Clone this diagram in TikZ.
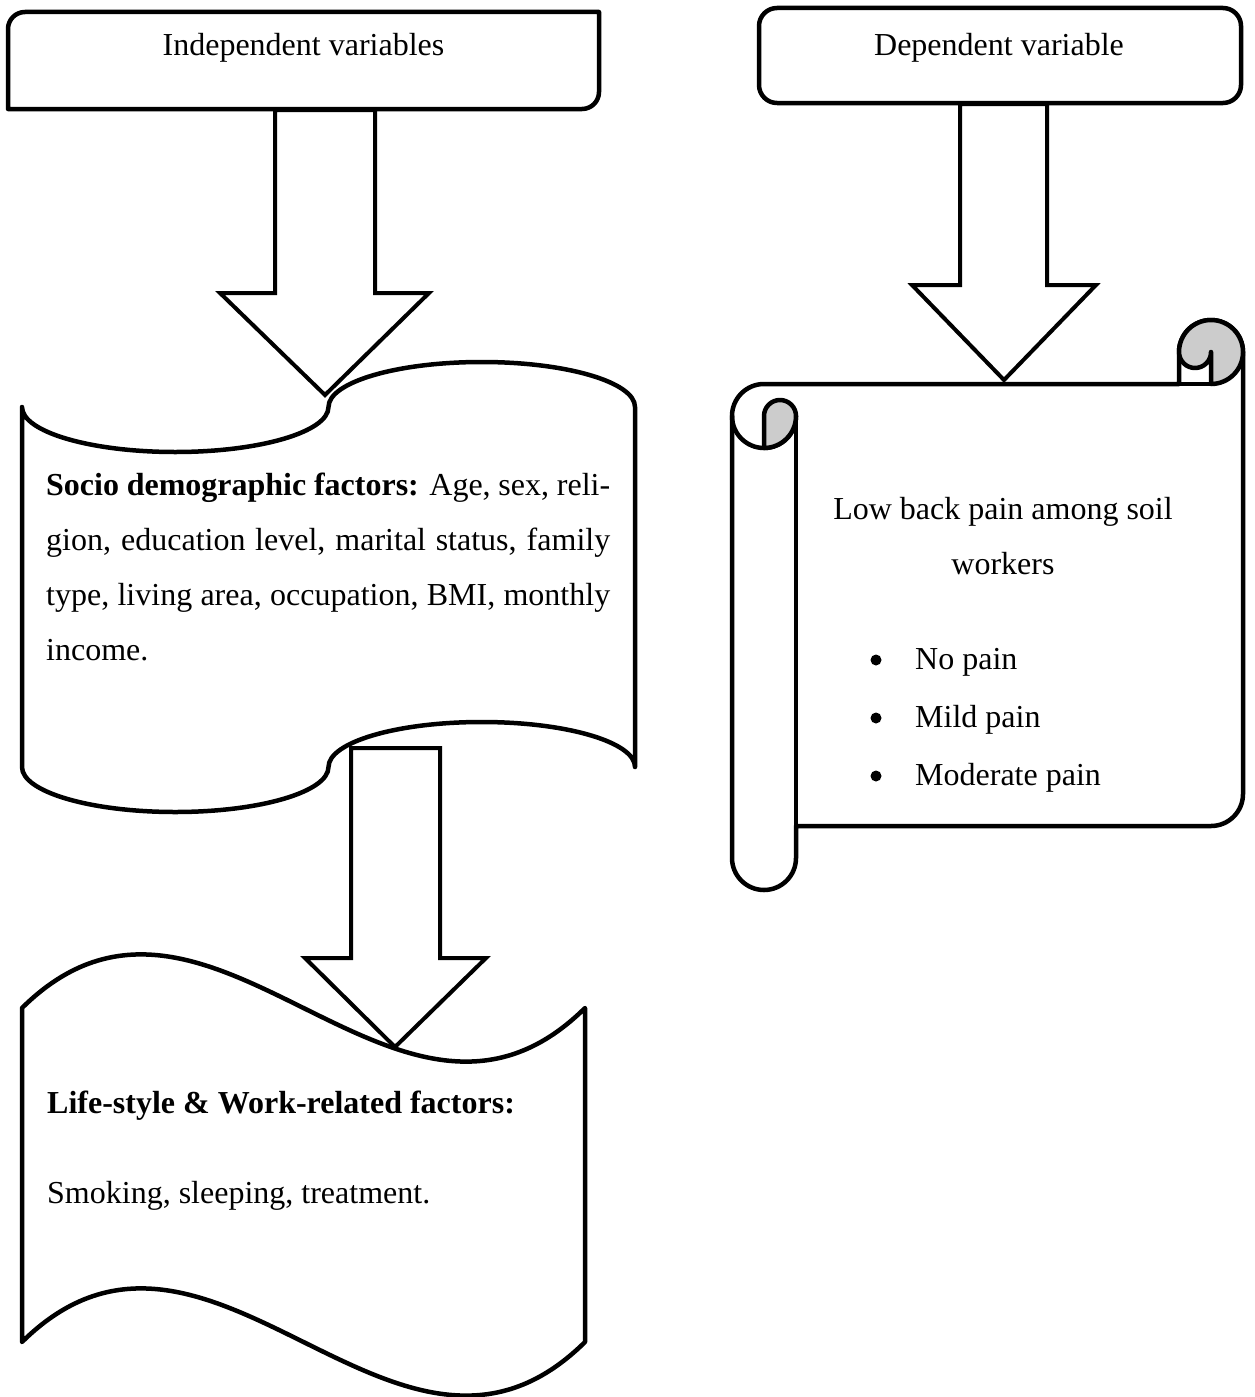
\documentclass[tikz,border=0pt]{standalone}
\usepackage{fontspec}
\setmainfont{Liberation Serif}
\begin{document}
\begin{tikzpicture}[x=1pt,y=1pt,
  shp/.style={draw=black, line width=4.5pt, fill=white, line join=round},
  blk/.style={draw=black, line width=4pt, fill=white, line join=miter},
  curl/.style={draw=black, line width=4.5pt, fill=black!20, line join=round},
  ln/.style={draw=black, line width=4.5pt, line cap=round},
  txt/.style={inner sep=0pt, font=\fontsize{32}{38}\selectfont},
]
\useasboundingbox (0,0) rectangle (1254,-1397);

% ---- top boxes
\draw[shp] (8,-109) -- (8,-29) arc[start angle=180,end angle=90,radius=17]
  -- (599,-12) -- (599,-92) arc[start angle=0,end angle=-90,radius=17] -- cycle;
\node[txt,anchor=base] (indep) at (303.5,-56) {Independent variables};

\draw[shp, rounded corners=18pt] (759,-8) rectangle (1241,-103);
\node[txt,anchor=base] (dep) at (999,-56) {Dependent variable};

% ---- socio demographic (punched tape)
\draw[shp] (22,-407)
  arc[start angle=180,end angle=360,x radius=153.25,y radius=45]
  arc[start angle=180,end angle=0,x radius=153.25,y radius=45]
  -- (635,-767)
  arc[start angle=0,end angle=180,x radius=153.25,y radius=45]
  arc[start angle=0,end angle=-180,x radius=153.25,y radius=45]
  -- cycle;
\node[txt,anchor=base west] (s1) at (46,-495) {\makebox[564pt][s]{\textbf{Socio demographic factors:} Age, sex, reli-}};
\node[txt,anchor=base west] (s2) at (46,-550) {\makebox[564pt][s]{gion, education level, marital status, family}};
\node[txt,anchor=base west] (s3) at (46,-605) {\makebox[564pt][s]{type, living area, occupation, BMI, monthly}};
\node[txt,anchor=base west] (s4) at (46,-660) {income.};

% ---- life-style (wave)
\draw[shp] (22,-1008)
  .. controls (209.7,-822.3) and (397.3,-1193.7) .. (585,-1008)
  -- (585,-1342)
  .. controls (397.3,-1527.7) and (209.7,-1156.3) .. (22,-1342)
  -- cycle;
\node[txt,anchor=base west] (l1) at (47,-1113) {\textbf{Life-style \& Work-related factors:}};
\node[txt,anchor=base west] (l2) at (47,-1203) {Smoking, sleeping, treatment.};

% ---- scroll
\draw[shp] (764,-384) -- (1179,-384) -- (1179,-352)
  arc[start angle=180,end angle=0,radius=32]
  -- (1243,-794) arc[start angle=0,end angle=-90,radius=32]
  -- (796,-826) -- (796,-858) arc[start angle=0,end angle=-180,radius=32]
  -- (732,-416) arc[start angle=180,end angle=90,radius=32] -- cycle;
\draw[ln] (796,-416) -- (796,-826);
\draw[ln] (732,-416) arc[start angle=180,end angle=360,radius=32];
\draw[ln] (1179,-384) -- (1211,-384);
\draw[curl] (764,-416) -- (764,-448) arc[start angle=270,end angle=360,radius=32]
  arc[start angle=0,end angle=180,radius=16] -- cycle;
\draw[curl] (1179,-352) arc[start angle=180,end angle=-90,radius=32]
  -- (1211,-352) arc[start angle=0,end angle=-180,radius=16] -- cycle;

\node[txt,anchor=base] (lb1) at (1003,-519) {Low back pain among soil};
\node[txt,anchor=base] (lb2) at (1003,-574) {workers};
\fill (876,-660) circle (5.5);
\fill (876,-718) circle (5.5);
\fill (876,-776) circle (5.5);
\node[txt,anchor=base west] (b1) at (915,-669) {No pain};
\node[txt,anchor=base west] (b2) at (915,-727) {Mild pain};
\node[txt,anchor=base west] (b3) at (915,-785) {Moderate pain};

% ---- block arrows
\draw[blk] (275,-110) -- (375,-110) -- (375,-293) -- (429,-293) -- (325,-395)
  -- (220,-293) -- (275,-293) -- cycle;
\draw[blk] (960,-104) -- (1047,-104) -- (1047,-285) -- (1096,-285) -- (1004,-380)
  -- (912,-285) -- (960,-285) -- cycle;
\draw[blk] (351,-748) -- (440,-748) -- (440,-958) -- (486,-958) -- (395,-1047)
  -- (305,-958) -- (351,-958) -- cycle;
\end{tikzpicture}
\end{document}
